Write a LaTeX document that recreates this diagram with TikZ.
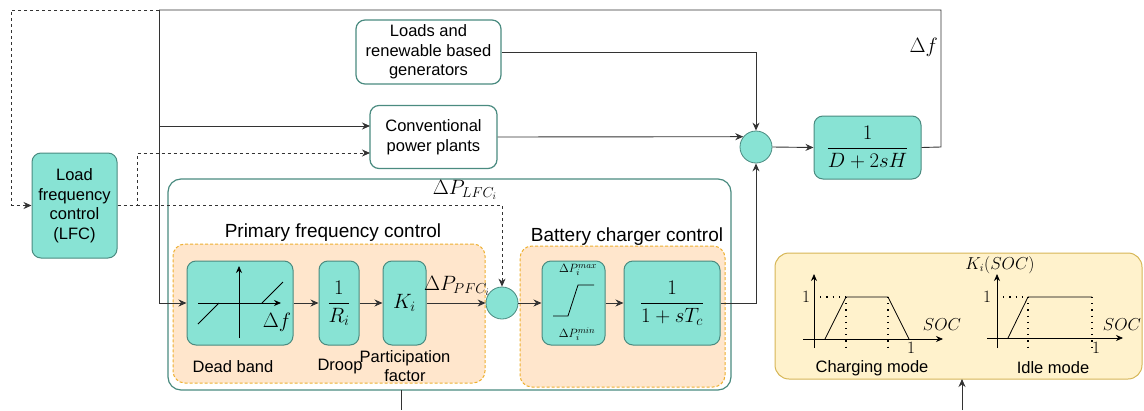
\documentclass[tikz,border=0pt]{standalone}
\usepackage[no-math]{fontspec}
\setmainfont{Liberation Sans}
\usetikzlibrary{arrows.meta}
\definecolor{tealF}{HTML}{88E3D4}
\definecolor{tealD}{HTML}{4A8B80}
\definecolor{orF}{HTML}{FFE6CC}
\definecolor{orD}{HTML}{EEB030}
\definecolor{yeF}{HTML}{FFF2CC}
\definecolor{yeD}{HTML}{D6B656}
\definecolor{lnc}{HTML}{333333}
\newcommand{\mfs}{\fontsize{20}{24}\selectfont}
\newcommand{\sfs}{\fontsize{13}{15}\selectfont}
\newcommand{\gfs}{\fontsize{16}{19}\selectfont}
\newcommand{\tfs}{\fontsize{19}{22}\selectfont}
\begin{document}
\begin{tikzpicture}[x=1pt,y=-1pt, font=\fontsize{16.5}{19.5}\selectfont,
 tealbox/.style={draw=tealD, fill=tealF, rounded corners=9pt, line width=1pt, inner sep=0pt, align=center},
 wbox/.style={draw=tealD, fill=white, rounded corners=9pt, line width=1.2pt, align=center, inner sep=0pt},
 sumc/.style={circle, draw=tealD, fill=tealF, line width=0.8pt, minimum size=32pt, inner sep=0pt},
 arr/.style={-{Stealth[length=8pt,width=7pt]}, line width=0.9pt, draw=lnc},
 sarr/.style={-{Stealth[length=7pt,width=6pt]}, line width=0.8pt, draw=black},
 wire/.style={line width=0.9pt, draw=lnc},
 dsh/.style={dash pattern=on 3pt off 3pt, line width=0.8pt, draw=lnc},
 dotl/.style={line width=1.2pt, dash pattern=on 1.2pt off 5pt, draw=black},
 lbl/.style={inner sep=0pt},
]
\useasboundingbox (0,0) rectangle (1144,410);

% containers
\node[wbox, minimum width=563pt, minimum height=211pt, rounded corners=13pt] (outer) at (449.5,284.5) {};
\node[draw=orD, fill=orF, dash pattern=on 3pt off 2pt, line width=1pt, rounded corners=12pt, minimum width=312pt, minimum height=139pt] (pfc) at (329,313.5) {};
\node[draw=orD, fill=orF, dash pattern=on 3pt off 2pt, line width=1pt, rounded corners=12pt, minimum width=205pt, minimum height=141pt] (bcc) at (622.5,316.5) {};
\node[draw=yeD, fill=yeF, line width=1pt, rounded corners=14pt, minimum width=367pt, minimum height=126pt] (soc) at (958.5,316) {};

% blocks
\node[tealbox, minimum width=85pt, minimum height=105pt] (lfc) at (74.5,205.5) {Load\\frequency\\control\\(LFC)};
\node[wbox, minimum width=145pt, minimum height=64pt] (loads) at (428.5,52) {Loads and\\renewable based\\generators};
\node[wbox, minimum width=127pt, minimum height=63pt] (conv) at (433.5,137) {Conventional\\power plants};
\node[sumc] (sum1) at (756,147) {};
\node[tealbox, minimum width=107pt, minimum height=63pt] (plant) at (867.5,147.5) {\mfs$\displaystyle\frac{1}{D+2sH}$};
\node[tealbox, minimum width=106pt, minimum height=84pt] (db) at (240,303) {};
\node[tealbox, minimum width=40pt, minimum height=84pt] (droop) at (339,303) {\mfs$\displaystyle\frac{1}{R_i}$};
\node[tealbox, minimum width=43pt, minimum height=84pt] (ki) at (404.5,303) {\mfs$K_i$};
\node[sumc] (sum2) at (502,303) {};
\node[tealbox, minimum width=63pt, minimum height=84pt] (sat) at (573.5,303) {};
\node[tealbox, minimum width=96pt, minimum height=84pt] (tc) at (672,303) {\mfs$\displaystyle\frac{1}{1+sT_c}$};

% coordinates
\coordinate (tr) at (941,10);
\coordinate (tl) at (159,10);
\coordinate (fl) at (11,10);
\coordinate (br) at (159,126);
\coordinate (bm) at (159,303);
\coordinate (rb) at (941,147);
\coordinate (dl) at (137,205);
\coordinate (du) at (137,153);
\coordinate (da) at (370,153);
\coordinate (ca) at (370,126);
\coordinate (dr) at (502,205);
\coordinate (lc) at (756,52);
\coordinate (tcr) at (756,303);
\coordinate (ob) at (401,390);
\coordinate (obe) at (401,410);
\coordinate (ys) at (962,410);
\coordinate (yt) at (962,379);

% feedback wires
\draw[wire] (plant.east) -- (rb) -- (tr) -- (tl);
\draw[arr] (tl) -- (bm) -- (db.west);
\draw[arr] (br) -- (ca);
\draw[dsh] (tl) -- (fl) -- (fl |- lfc.west);
\draw[dsh,-{Stealth[length=8pt,width=7pt]}] (fl |- lfc.west) -- (lfc.west);
\draw[dsh,-{Stealth[length=8pt,width=7pt]}] (lfc.east |- dl) -- (dl) -- (du) -- (da);
\draw[dsh,-{Stealth[length=8pt,width=7pt]}] (dl) -- (dr) -- (sum2.north);
\draw[arr] (loads.east) -- (lc) -- (sum1.north);
\draw[arr] (conv.east) -- (sum1.141);
\draw[arr] (sum1.east) -- (plant.west);
\draw[arr] (db.east) -- (droop.west);
\draw[arr] (droop.east) -- (ki.west);
\draw[arr] (ki.east) -- (sum2.west);
\draw[arr] (sum2.east) -- (sat.west);
\draw[arr] (sat.east) -- (tc.west);
\draw[arr] (tc.east) -- (tcr) -- (sum1.south);
\draw[wire] (ob) -- (obe);
\draw[arr] (ys) -- (yt);

% labels
\node[lbl, anchor=east] (dflbl) at (938,47) {\mfs$\Delta f$};
\node[lbl] (plfc) at (465,190) {\mfs$\Delta P_{LFC_i}$};
\node[lbl] (ppfc) at (457,286) {\mfs$\Delta P_{PFC_i}$};
\node[lbl] (pfct) at (333,233) {\tfs Primary frequency control};
\node[lbl] (bcct) at (627,237) {\tfs Battery charger control};
\node[lbl] (dbt) at (233,367) {Dead band};
\node[lbl] (drt) at (340,367) {Droop};
\node[lbl, align=center] (pft) at (405,366) {Participation\\factor};

% dead band graph
\draw[sarr] (198,303) -- (281,303);
\draw[sarr] (239,338) -- (239,266);
\draw[line width=0.8pt] (198,324) -- (219,303);
\draw[line width=0.8pt] (262,303) -- (283,282);
\node[lbl] (dbf) at (277,322) {\mfs$\Delta f$};

% saturation
\draw[line width=0.8pt] (553,316) -- (568,316) -- (578,285) -- (594,285);
\node[lbl] (pmax) at (578,270) {\sfs$\Delta P_i^{max}$};
\node[lbl] (pmin) at (577,334) {\sfs$\Delta P_i^{min}$};

% charging mode graph
\draw[sarr] (814,348) -- (814,274);
\draw[sarr] (803,339) -- (943,339);
\draw[line width=0.8pt] (825,339) -- (846,297) -- (888,297) -- (909,339);
\draw[dotl] (814,297) -- (846,297);
\draw[dotl] (846,297) -- (846,351);
\draw[dotl] (888,297) -- (888,351);
\node[lbl] (c1) at (806,297) {\gfs$1$};
\node[lbl] (c1b) at (911,348) {\gfs$1$};
\node[lbl] (csoc) at (942,325) {\gfs$SOC$};
\node[lbl] (cmt) at (872,368) {Charging mode};

% idle mode graph
\draw[sarr] (997,348) -- (997,274);
\draw[sarr] (987,338) -- (1123,338);
\draw[line width=0.8pt] (1008,338) -- (1028,297) -- (1092,297);
\draw[dotl] (997,297) -- (1028,297);
\draw[dotl] (1028,297) -- (1028,351);
\draw[dotl] (1092,297) -- (1092,351);
\node[lbl] (i1) at (987,297) {\gfs$1$};
\node[lbl] (i1b) at (1096,348) {\gfs$1$};
\node[lbl] (isoc) at (1122,325) {\gfs$SOC$};
\node[lbl] (kisoc) at (1000,265) {\gfs$K_i(SOC)$};
\node[lbl] (imt) at (1053,368) {Idle mode};
\end{tikzpicture}
\end{document}
